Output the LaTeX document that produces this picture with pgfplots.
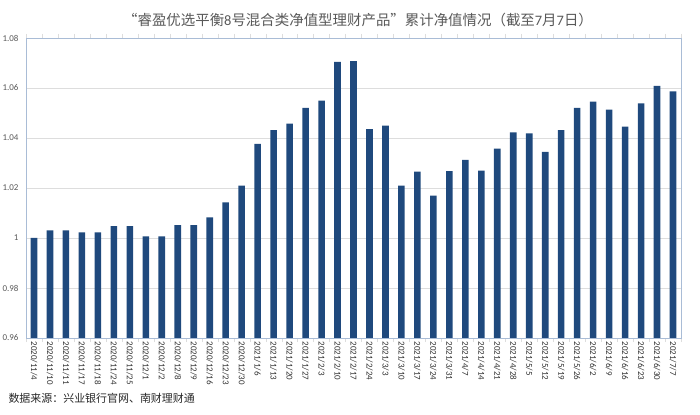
\documentclass[border=0pt]{standalone}
\usepackage{pgfplots}
\pgfplotsset{compat=1.18}
\usepackage{pgfplotstable}
\usepackage{fontspec}
\setmainfont{Carlito}
\newfontfamily\cjk{Noto Sans CJK SC}
\definecolor{barblue}{HTML}{1F497D}
\definecolor{frameblue}{HTML}{A9BCD6}
\definecolor{gridgray}{HTML}{DDDDDD}
\definecolor{textgray}{HTML}{595959}
\pgfplotstableread{
x y
0 1.0000
1 1.0030
2 1.0030
3 1.0022
4 1.0022
5 1.0047
6 1.0047
7 1.0006
8 1.0006
9 1.0051
10 1.0051
11 1.0082
12 1.0142
13 1.0209
14 1.0376
15 1.0431
16 1.0457
17 1.0520
18 1.0549
19 1.0704
20 1.0707
21 1.0435
22 1.0449
23 1.0209
24 1.0265
25 1.0169
26 1.0267
27 1.0312
28 1.0269
29 1.0357
30 1.0422
31 1.0418
32 1.0344
33 1.0431
34 1.0520
35 1.0545
36 1.0513
37 1.0445
38 1.0538
39 1.0608
40 1.0586
}\navdata
\begin{document}
\begin{tikzpicture}
\path[use as bounding box] (0,0) rectangle (700bp,415bp);
\begin{axis}[
  at={(26bp,77bp)}, anchor=south west,
  scale only axis, width=655bp, height=300bp,
  xmin=-0.5, xmax=40.5, ymin=0.96, ymax=1.08,
  ybar, bar width=6.6bp,
  ytick={0.96,0.98,1,1.02,1.04,1.06,1.08},
  yticklabels={0.96,0.98,1,1.02,1.04,1.06,1.08},
  xtick={0,...,40},
  xticklabels={2020/11/4,2020/11/10,2020/11/11,2020/11/17,2020/11/18,2020/11/24,2020/11/25,2020/12/1,2020/12/2,2020/12/8,2020/12/9,2020/12/16,2020/12/23,2020/12/30,2021/1/6,2021/1/13,2021/1/20,2021/1/27,2021/2/3,2021/2/10,2021/2/17,2021/2/24,2021/3/3,2021/3/10,2021/3/17,2021/3/24,2021/3/31,2021/4/7,2021/4/14,2021/4/21,2021/4/28,2021/5/5,2021/5/12,2021/5/19,2021/5/26,2021/6/2,2021/6/9,2021/6/16,2021/6/23,2021/6/30,2021/7/7},
  minor xtick={-0.5,0.5,...,40.5},
  xticklabel style={rotate=-90, anchor=west, font=\fontsize{9}{10}\selectfont, text=black!80, xshift=0bp},
  yticklabel style={font=\fontsize{9}{10}\selectfont, text=textgray, xshift=-4bp},
  major tick length=0pt,
  minor tick length=4bp,
  tick align=outside,
  minor tick style={draw=gridgray},
  ymajorgrids, major grid style={draw=gridgray, line width=0.6bp},
  axis line style={draw=frameblue, line width=0.8bp},
  axis on top=false,
]
\addplot[fill=barblue, draw=none] table[x=x,y=y] {\navdata};
\end{axis}
\node[text=textgray, font=\fontsize{14.5}{16}\selectfont] at (358bp,395bp)
  {{\cjk “睿盈优选平衡}8{\cjk 号混合类净值型理财产品”累计净值情况（截至}7{\cjk 月}7{\cjk 日）}};
\node[anchor=west, text=black!85, font=\cjk\fontsize{11}{12}\selectfont] at (5bp,17bp)
  {数据来源：兴业银行官网、南财理财通};
\end{tikzpicture}
\end{document}
